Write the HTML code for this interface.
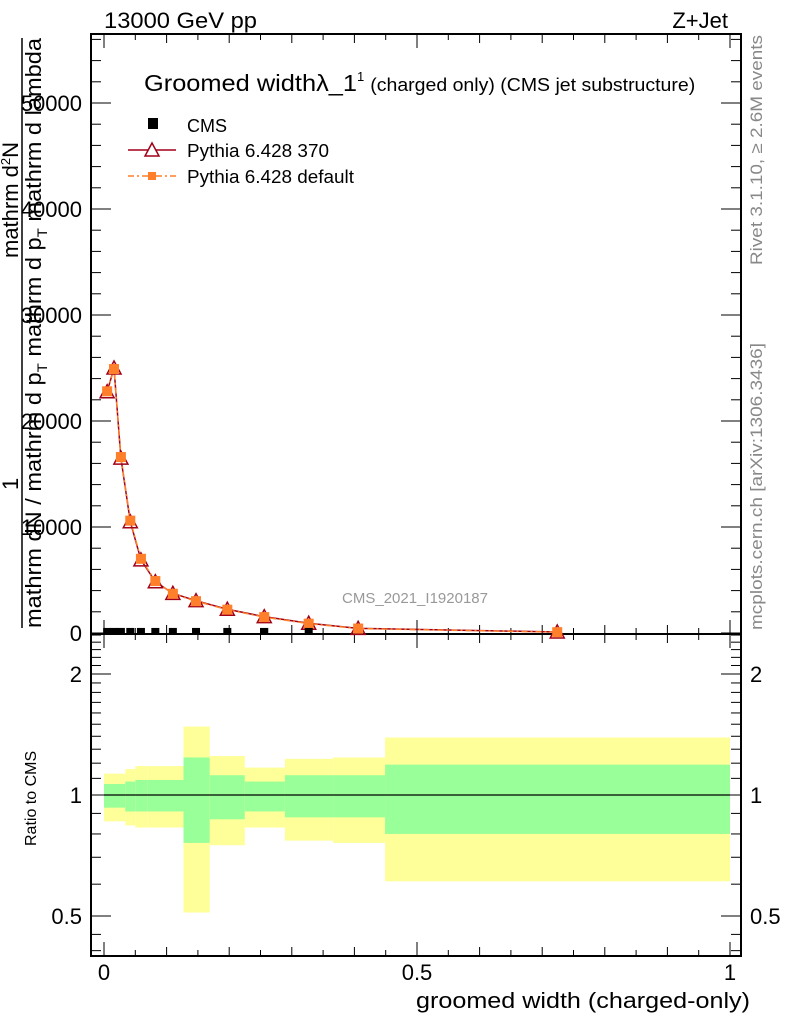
<!DOCTYPE html>
<html><head><meta charset="utf-8"><style>
body{margin:0;background:#fff;}
svg{font-family:"Liberation Sans",sans-serif;}
</style></head><body>
<svg id="c" width="786" height="1024" viewBox="0 0 786 1024" xmlns="http://www.w3.org/2000/svg"></svg>
<script>
const xCenters=[0.005,0.016,0.027,0.042,0.059,0.082,0.11,0.147,0.197,0.256,0.327,0.406,0.724];
const mc370=[22760,25000,16500,10500,6900,4840,3740,3050,2240,1540,920,440,100];
const mcDef=[22800,24900,16600,10600,7000,4900,3700,3000,2200,1500,880,420,80];
const cmsX=[0.005,0.016,0.027,0.042,0.059,0.082,0.11,0.147,0.197,0.256,0.327];
const cmsY=[100,100,100,100,100,100,100,100,100,100,100];
const ratioEdges=[0,0.034,0.05,0.069,0.127,0.169,0.225,0.289,0.366,0.449,1];
const yelHi=[1.13,1.16,1.18,1.18,1.48,1.25,1.17,1.23,1.24,1.39];
const yelLo=[0.86,0.84,0.83,0.83,0.51,0.75,0.83,0.77,0.76,0.61];
const grnHi=[1.065,1.08,1.09,1.09,1.24,1.12,1.08,1.12,1.12,1.19];
const grnLo=[0.93,0.91,0.91,0.91,0.76,0.87,0.91,0.88,0.88,0.80];
const yTicks=[0,10000,20000,30000,40000,50000];
const rTicks=[0.5,1,2];
const xTicks=[0,0.5,1];

const NS="http://www.w3.org/2000/svg";
const svg=document.getElementById('c');
function el(t,a,txt,parent){const e=document.createElementNS(NS,t);for(const k in a)e.setAttribute(k,a[k]);if(txt!==undefined)e.textContent=txt;(parent||svg).appendChild(e);return e;}
const L=91,R=741,T=34,M=634,B=956;
const X=v=>104+v*626;
const Y=v=>633-v*0.0106;
const RY=v=>795-121*Math.log2(v);

for(let i=0;i<yelHi.length;i++){
  const x0=X(ratioEdges[i]),x1=X(ratioEdges[i+1]);
  const y=el('rect',{x:x0,y:RY(yelHi[i]),width:x1-x0,height:RY(yelLo[i])-RY(yelHi[i]),fill:'#ffff99'});
  
  
  const g=el('rect',{x:x0,y:RY(grnHi[i]),width:x1-x0,height:RY(grnLo[i])-RY(grnHi[i]),fill:'#99ff99'});
  
  
}
el('line',{x1:X(0),x2:X(1),y1:RY(1),y2:RY(1),stroke:'#000','stroke-width':1.2});

const f1=el('rect',{x:L,y:T,width:R-L,height:M-T,fill:'none',stroke:'#000','stroke-width':2});

const f2=el('rect',{x:L,y:M,width:R-L,height:B-M,fill:'none',stroke:'#000','stroke-width':2});


for(let k=0;k<=20;k++){const v=k*0.05,x=X(v),len=(k%10==0)?14:(k%2==0?9:6);
  el('line',{x1:x,x2:x,y1:T,y2:T+len,stroke:'#000'});
  el('line',{x1:x,x2:x,y1:M,y2:M-len,stroke:'#000'});
  el('line',{x1:x,x2:x,y1:M,y2:M+len,stroke:'#000'});
  el('line',{x1:x,x2:x,y1:B,y2:B-len,stroke:'#000'});
}
xTicks.forEach(v=>{const t=el('text',{x:X(v),y:980,'font-size':22,'text-anchor':'middle'},String(v));
  });
for(let v=0;v<=56000;v+=2000){const y=Y(v);if(y<T)break;const len=v%10000==0?20:10;
  el('line',{x1:L,x2:L+len,y1:y,y2:y,stroke:'#000'});el('line',{x1:R,x2:R-len,y1:y,y2:y,stroke:'#000'});}
yTicks.forEach(v=>{const t=el('text',{x:82,y:Y(v)+8,'font-size':22,'text-anchor':'end'},String(v));
  });
[0.5,0.6,0.7,0.8,0.9,1,1.1,1.2,1.3,1.4,1.5,1.6,1.7,1.8,1.9,2,2.1,2.2,2.3,2.4,2.5,0.45,0.41].forEach(v=>{const y=RY(v);if(y<M||y>B)return;
  const len=[0.5,1,2].includes(v)?20:10;
  el('line',{x1:L,x2:L+len,y1:y,y2:y,stroke:'#000'});el('line',{x1:R,x2:R-len,y1:y,y2:y,stroke:'#000'});});
rTicks.forEach(v=>{
  const t=el('text',{x:82,y:RY(v)+8,'font-size':22,'text-anchor':'end'},String(v));
  
  const t2=el('text',{x:750,y:RY(v)+8,'font-size':22},String(v));
  });

const p370=xCenters.map((x,i)=>X(x)+','+Y(mc370[i])).join(' ');
el('polyline',{points:p370,fill:'none',stroke:'#a00018','stroke-width':1.5});
const pDef=xCenters.map((x,i)=>X(x)+','+Y(mcDef[i])).join(' ');
el('polyline',{points:pDef,fill:'none',stroke:'#ff7f2a','stroke-width':1.5,'stroke-dasharray':'6,3,2,3'});
xCenters.forEach((x,i)=>{const cx=X(x),cy=Y(mc370[i]);
  const t=el('polygon',{points:`${cx-7},${cy+6} ${cx+7},${cy+6} ${cx},${cy-7}`,fill:'none',stroke:'#a00018','stroke-width':1.5});
  
  const s=el('rect',{x:X(x)-5,y:Y(mcDef[i])-5,width:10,height:10,fill:'#ff7f2a'});
  });
cmsX.forEach((x,i)=>{const r=el('rect',{x:X(x)-4,y:Y(cmsY[i])-4,width:8,height:7,fill:'#000'});
  });
</script>
<svg width="786" height="1024" style="position:absolute;left:0;top:0" xmlns="http://www.w3.org/2000/svg">
<g font-family="Liberation Sans, sans-serif">
<text x="104" y="28" font-size="22" textLength="153" lengthAdjust="spacingAndGlyphs">13000 GeV pp</text>
<text x="728" y="28" font-size="22" text-anchor="end">Z+Jet</text>
<text x="144" y="91" font-size="23"><tspan textLength="213" lengthAdjust="spacingAndGlyphs">Groomed widthλ_1</tspan><tspan font-size="13" dy="-10">1</tspan><tspan font-size="18" dy="10" dx="6" textLength="325" lengthAdjust="spacingAndGlyphs">(charged only) (CMS jet substructure)</tspan></text>
<rect x="148" y="118" width="10" height="11" fill="#000"/>
<text x="187" y="132" font-size="18">CMS</text>
<line x1="128" y1="150" x2="176" y2="150" stroke="#a00018" stroke-width="1.5"/>
<polygon points="145,156 159,156 152,143" fill="#fff" stroke="#a00018" stroke-width="1.5"/>
<text x="187" y="157" font-size="18" textLength="142" lengthAdjust="spacingAndGlyphs">Pythia 6.428 370</text>
<line x1="128" y1="176" x2="176" y2="176" stroke="#ff7f2a" stroke-width="1.5" stroke-dasharray="6,3,2,3"/>
<rect x="148" y="172" width="8" height="8" fill="#ff7f2a"/>
<text x="187" y="183" font-size="18" textLength="167" lengthAdjust="spacingAndGlyphs">Pythia 6.428 default</text>
<text x="415" y="603" font-size="15" fill="#999" text-anchor="middle">CMS_2021_I1920187</text>
<text transform="translate(762,265) rotate(-90)" font-size="17" fill="#888" textLength="230" lengthAdjust="spacingAndGlyphs">Rivet 3.1.10, ≥ 2.6M events</text>
<text transform="translate(762,630) rotate(-90)" font-size="17" fill="#888" textLength="287" lengthAdjust="spacingAndGlyphs">mcplots.cern.ch [arXiv:1306.3436]</text>
<text transform="translate(18,490) rotate(-90)" font-size="22">1</text>
<line x1="22" y1="628" x2="22" y2="38" stroke="#000" stroke-width="1.5"/>
<text transform="translate(41,628) rotate(-90)" font-size="22" textLength="590" lengthAdjust="spacingAndGlyphs">mathrm dN / mathrm d p<tspan font-size="14" dy="6">T</tspan><tspan dy="-6"> mathrm d p</tspan><tspan font-size="14" dy="6">T</tspan><tspan dy="-6"> mathrm d lambda</tspan></text>
<text transform="translate(18,258) rotate(-90)" font-size="22">mathrm d<tspan font-size="13" dy="-8">2</tspan><tspan dy="8">N</tspan></text>
<text transform="translate(36,846) rotate(-90)" font-size="16">Ratio to CMS</text>
<text x="750" y="1008" font-size="22" text-anchor="end" textLength="334" lengthAdjust="spacingAndGlyphs">groomed width (charged-only)</text>
</g></svg>
</body></html>
